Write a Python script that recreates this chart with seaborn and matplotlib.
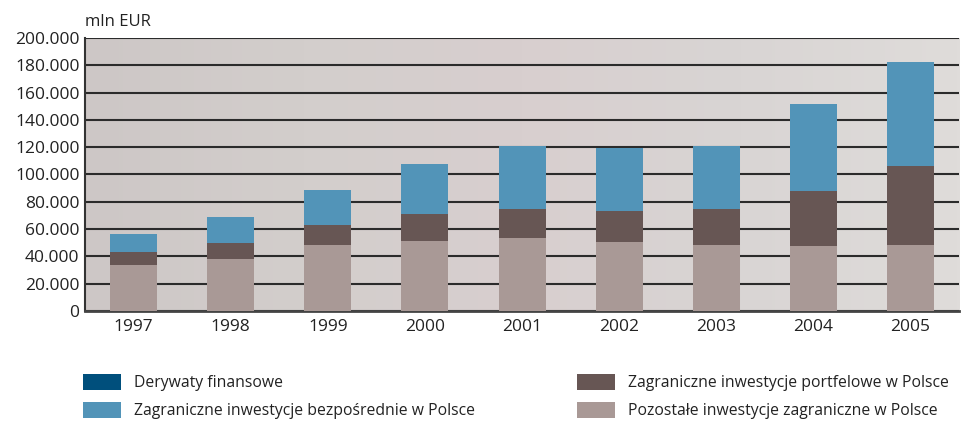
import numpy as np
import pandas as pd
import matplotlib
matplotlib.use('Agg')
import matplotlib.pyplot as plt
import seaborn as sns
from matplotlib.patches import Patch
from matplotlib.colors import LinearSegmentedColormap
from matplotlib.ticker import FuncFormatter, FixedLocator

# dane (mln EUR)
lata = ['1997', '1998', '1999', '2000', '2001', '2002', '2003', '2004', '2005']
pozostale = [33700, 38100, 48400, 51300, 53500, 50500, 48400, 47600, 48400]
portfelowe = [9500, 11700, 14600, 19800, 21200, 22800, 26300, 40300, 57800]
bezposrednie = [13400, 18800, 25800, 36300, 46200, 46100, 46000, 63500, 76000]
derywaty = [0, 0, 0, 0, 0, 100, 0, 0, 0]

nazwy = ['Derywaty finansowe',
         'Zagraniczne inwestycje bezpośrednie w Polsce',
         'Zagraniczne inwestycje portfelowe w Polsce',
         'Pozostałe inwestycje zagraniczne w Polsce']
kolory = ['#004f7c', '#5294b8', '#675654', '#a99996']

df = pd.DataFrame({'rok': lata, 'poz': pozostale, 'port': portfelowe,
                   'bezp': bezposrednie, 'der': derywaty})
df['c1'] = df['poz']
df['c2'] = df['c1'] + df['port']
df['c3'] = df['c2'] + df['bezp']
df['c4'] = df['c3'] + df['der']

sns.set_style('white')
plt.rcParams['font.family'] = ['Liberation Sans Narrow', 'Open Sans', 'DejaVu Sans']

fig = plt.figure(figsize=(9.61, 4.24), dpi=100)
ax = fig.add_axes([0.0885, 0.2665, 0.9095, 0.644])

# tło z gradientem
cmap = LinearSegmentedColormap.from_list('tlo', ['#cdc7c6', '#d3cecc', '#d8cfcf', '#d9d5d4', '#dfdcda'])
ax.imshow(np.linspace(0, 1, 256).reshape(1, -1), cmap=cmap, aspect='auto',
          extent=[0, 1, 0, 1], transform=ax.transAxes, zorder=-5)

# słupki skumulowane (od największej sumy)
for kol, c in zip(['c4', 'c3', 'c2', 'c1'], kolory):
    sns.barplot(data=df, x='rok', y=kol, color=c, width=0.485, saturation=1,
                linewidth=0, ax=ax, zorder=3)

ax.set_xlim(-0.5, len(lata) - 0.5)
ax.set_ylim(0, 200000)
ax.set_yticks(np.arange(0, 200001, 20000))
ax.yaxis.set_major_formatter(FuncFormatter(lambda v, p: f'{v:,.0f}'.replace(',', '.')))
ax.grid(axis='y', color='#2b2b2b', lw=1.5, zorder=1)
ax.set_axisbelow(True)
ax.set_xlabel('')
ax.set_ylabel('')

ax.xaxis.set_minor_locator(FixedLocator(np.arange(0.5, len(lata), 1)))
ax.tick_params(axis='x', which='major', length=0, pad=6, labelsize=12.5, labelcolor='#222222')
ax.tick_params(axis='x', which='minor', direction='in', length=6, width=1.5, color='#333333')
ax.tick_params(axis='y', length=0, pad=4, labelsize=12.5, labelcolor='#222222')

for s in ['top', 'right']:
    ax.spines[s].set_visible(False)
ax.spines['left'].set_color('#333333')
ax.spines['left'].set_linewidth(1.5)
ax.spines['bottom'].set_color('#444444')
ax.spines['bottom'].set_linewidth(2)

fig.text(0.0885, 0.948, 'mln EUR', fontsize=12, color='#222222', va='center', ha='left')

# legenda w dwóch kolumnach
uchwyty = [Patch(facecolor=c, edgecolor='none') for c in kolory]
opcje = dict(loc='upper left', frameon=False, fontsize=11.3, handlelength=2.45,
             handleheight=1.15, handletextpad=0.8, labelspacing=0.7,
             borderaxespad=0, borderpad=0)
lewa = fig.legend(uchwyty[:2], nazwy[:2], bbox_to_anchor=(0.0864, 0.118), **opcje)
prawa = fig.legend(uchwyty[2:], nazwy[2:], bbox_to_anchor=(0.600, 0.118), **opcje)
for lg in (lewa, prawa):
    for t in lg.get_texts():
        t.set_color('#222222')

fig.savefig('out.png', dpi=100)
